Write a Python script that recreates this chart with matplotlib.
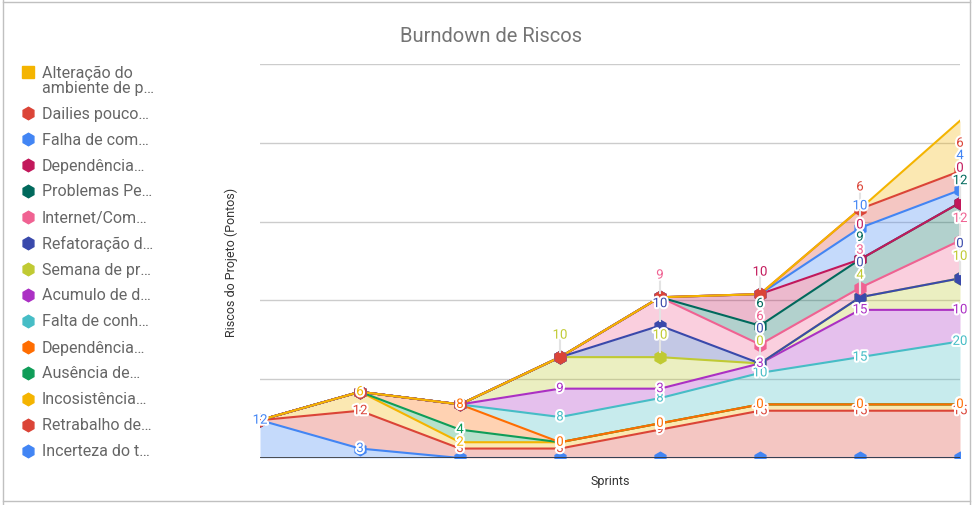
#! /usr/bin/env python
"""Burndown de riscos: stacked area chart per sprint."""

import matplotlib.pyplot as plt
import matplotlib.patheffects as pe
from matplotlib.lines import Line2D

plt.rcParams['font.family'] = ['Roboto', 'DejaVu Sans']

N = None  # blank cell: counts as zero, no data label

sprints = list(range(8))

# series from bottom of the stack to the top
incerteza = [12, 3, N, N, N, N, N, N]
retrabalho = [N, 12, 3, 3, 9, 15, 15, 15]
incosistencia = [N, 6, 2, 2, 2, 2, 2, 2]
ausencia = [N, N, 4, 0, 0, 0, 0, 0]
dependencia_lib = [N, N, 8, 0, 0, 0, 0, 0]
falta_conh = [N, N, N, 8, 8, 10, 15, 20]
acumulo = [N, N, N, 9, 3, 3, 15, 10]
semana = [N, N, N, 10, 10, 0, 4, 10]
refatoracao = [N, N, N, N, 10, 0, 0, 0]
internet = [N, N, N, N, 9, 6, 3, 12]
problemas = [N, N, N, N, N, 6, 9, 12]
dependencia_ext = [N, N, N, N, N, 10, 0, 0]
falha_com = [N, N, N, N, N, N, 10, 4]
dailies = [N, N, N, N, N, N, 6, 6]
alteracao = [N, N, N, N, N, N, N, 16]

legend_names = [
    "Incerteza do t…", "Retrabalho de…", "Incosistência…", "Ausência de…",
    "Dependência…", "Falta de conh…", "Acumulo de d…", "Semana de pr…",
    "Refatoração d…", "Internet/Com…", "Problemas Pe…", "Dependência…",
    "Falha de com…", "Dailies pouco…", "Alteração do\nambiente de p…",
]

# (values, colour, marker, label mode)
series = [
    (incerteza, "#4285F4", "h", "center"),
    (retrabalho, "#DB4437", None, "center"),
    (incosistencia, "#F4B400", None, "center"),
    (ausencia, "#0F9D58", None, "center"),
    (dependencia_lib, "#FF6D01", None, "center"),
    (falta_conh, "#46BDC6", None, "center"),
    (acumulo, "#AB30C4", None, "center"),
    (semana, "#C0CA33", "h", "above"),
    (refatoracao, "#3949AB", "h", "above"),
    (internet, "#F06292", "h", "above"),
    (problemas, "#00695C", "h", "above"),
    (dependencia_ext, "#C2185B", "h", "above"),
    (falha_com, "#4285F4", "h", "above"),
    (dailies, "#DB4437", "h", "above"),
    (alteracao, "#F4B400", None, None),
]

W, H = 975, 506
fig = plt.figure(figsize=(W / 100, H / 100), dpi=100)
ax = fig.add_axes([260 / W, 1 - 459 / H, 700 / W, 394 / H])
ax.set_xlim(0, 7)
ax.set_ylim(0, 125)
px = 394 / 125  # pixels per unit
above_off = 22 / px
gap = 12.5 / px

for y in (25, 50, 75, 100, 125):
    ax.axhline(y, color="#cccccc", lw=1, zorder=0)
ax.axhline(0, color="#333333", lw=1.2, zorder=6)

base = [0.0] * len(sprints)
tops = []
for vals, color, marker, mode in series:
    top = [b + (v or 0) for b, v in zip(base, vals)]
    ax.fill_between(sprints, base, top, color=color, alpha=0.3, lw=0, zorder=1)
    tops.append(top)
    base = top

for i, (vals, color, marker, mode) in enumerate(series):
    ax.plot(sprints, tops[i], color=color, lw=1.5, zorder=2 + i * 0.01)
for i, (vals, color, marker, mode) in enumerate(series):
    if marker:
        ax.plot(sprints, tops[i], ls="none", marker=marker, ms=9,
                color=color, mec=color, zorder=3 + i * 0.01)

halo = [pe.withStroke(linewidth=3, foreground="white")]
for x in sprints:
    placed = []
    for i, (vals, color, marker, mode) in enumerate(series):
        if mode is None or vals[x] is None:
            continue
        y = tops[i][x]
        if mode == "above":
            y = y + above_off
            moved = True
            while moved:
                moved = False
                for p in placed:
                    if abs(y - p) < gap - 1e-6:
                        y = p + gap
                        moved = True
            ax.plot([x, x], [tops[i][x] + 1.5, y - 1.5], color="#e3e3e3",
                    lw=1.5, zorder=4, clip_on=False)
        placed.append(y)
        ax.text(x, y, str(vals[x]), color=color, fontsize=9.5, ha="center",
                va="center", zorder=5 + i * 0.01, path_effects=halo,
                clip_on=False)

ax.set_xticks([])
ax.set_yticks([])
for s in ax.spines.values():
    s.set_visible(False)

fig.text(491 / W, 1 - 36 / H, "Burndown de Riscos", ha="center",
         va="center", fontsize=14.5, color="#757575")
fig.text(610 / W, 1 - 482 / H, "Sprints", ha="center", va="center",
         fontsize=9, color="#333333")
fig.text(231 / W, 1 - 262 / H, "Riscos do Projeto (Pontos)", ha="center",
         va="center", rotation=90, fontsize=9, color="#333333")

# legend, top series first
lax = fig.add_axes([0, 0, 1, 1], zorder=-1)
lax.set_xlim(0, W)
lax.set_ylim(H, 0)
lax.axis("off")
row_y = [73] + [114 + 26 * k for k in range(14)]
for k, i in enumerate(range(len(series) - 1, -1, -1)):
    color = series[i][1]
    mk = "s" if i == len(series) - 1 else "h"
    lax.plot(28, row_y[k], marker=mk, ms=9 if mk == "h" else 8,
             color=color, ls="none")
    name = legend_names[i]
    lax.text(42, row_y[k] - 7 if "\n" in name else row_y[k], name,
             va="top" if "\n" in name else "center", ha="left",
             fontsize=11.5, color="#666666", linespacing=0.95)

# sheet cell border around the chart
for xs, ys in (((3, 3), (0, H)), ((3, 970), (3, 3)),
               ((970, 970), (0, H)), ((3, 970), (502, 502))):
    lax.add_line(Line2D(xs, ys, color="#c0c0c0", lw=1))

fig.savefig("out.png", dpi=100)
